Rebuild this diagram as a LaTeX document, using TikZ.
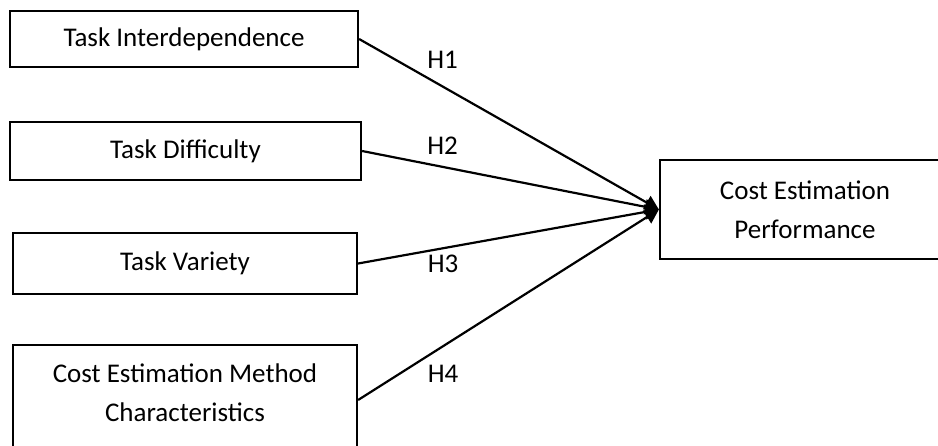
\documentclass[tikz,border=0pt]{standalone}
\usepackage{fontspec}
\setmainfont{Carlito}
\usetikzlibrary{arrows.meta}
\begin{document}
\begin{tikzpicture}[x=1pt,y=-1pt,
  box/.style={draw=black,line width=2.2pt,fill=white,rectangle,inner sep=0pt,align=center,
    font=\fontsize{27}{39}\selectfont},
  conn/.style={line width=2.2pt,-{Triangle[length=14pt,width=15pt]}},
  hlabel/.style={font=\fontsize{27}{32}\selectfont,inner sep=0pt}]
\useasboundingbox (0,0) rectangle (938,445);
\clip (0,0) rectangle (938,445);
\node[box,minimum width=348pt,minimum height=56pt] (b1) at (184,39) {Task Interdependence};
\node[box,minimum width=351pt,minimum height=58pt] (b2) at (185.5,151) {Task Difficulty};
\node[box,minimum width=344pt,minimum height=61pt] (b3) at (185,263.5) {Task Variety};
\node[box,minimum width=344pt,minimum height=110pt] (b4) at (185,400) {Cost Estimation Method\\Characteristics\rule[-14pt]{0pt}{0pt}};
\node[box,minimum width=290pt,minimum height=99pt] (out) at (805,209.5) {Cost Estimation\\Performance};
\coordinate (tip) at (out.west);
\draw[conn] (b1.east) -- (tip);
\draw[conn] (b2.east) -- (tip);
\draw[conn] (b3.east) -- (tip);
\draw[conn] (b4.east) -- (tip);
\node[hlabel] (h1) at (442.5,59.5) {H1};
\node[hlabel] (h2) at (442.5,145.5) {H2};
\node[hlabel] (h3) at (443,263.5) {H3};
\node[hlabel] (h4) at (443,374) {H4};
\end{tikzpicture}
\end{document}
